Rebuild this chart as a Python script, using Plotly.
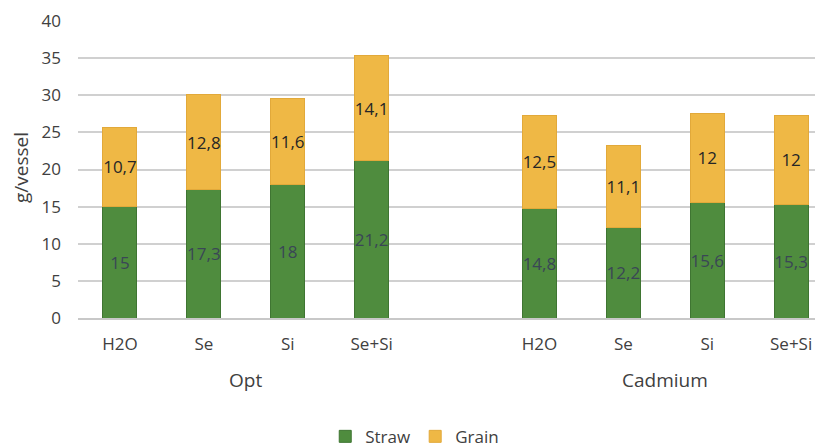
import plotly.graph_objects as go

groups = ["Opt", "Cadmium"]
treatments = ["H2O", "Se", "Si", "Se+Si"]
straw = {"Opt": [15, 17.3, 18, 21.2], "Cadmium": [14.8, 12.2, 15.6, 15.3]}
grain = {"Opt": [10.7, 12.8, 11.6, 14.1], "Cadmium": [12.5, 11.1, 12, 12]}

def fmt(v):
    return (("%g" % v)).replace(".", ",")

xs, s_vals, g_vals, tick_text = [], [], [], []
for gi, g in enumerate(groups):
    for ti, t in enumerate(treatments):
        xs.append(gi * (len(treatments) + 1) + ti)
        tick_text.append(t)
    s_vals += straw[g]
    g_vals += grain[g]

FONT = "'Open Sans', sans-serif"
fig = go.Figure()
fig.add_trace(go.Bar(
    x=xs, y=s_vals, name="Straw", width=0.405,
    marker=dict(color="#4f8c3e", line=dict(color="#3f7532", width=1)),
    text=[fmt(v) for v in s_vals], textposition="inside", insidetextanchor="middle",
    textfont=dict(size=17, color="#3a4656", family=FONT), textangle=0,
))
fig.add_trace(go.Bar(
    x=xs, y=g_vals, name="Grain", width=0.405,
    marker=dict(color="#efb845", line=dict(color="#e2a93a", width=1)),
    text=[fmt(v) for v in g_vals], textposition="inside", insidetextanchor="middle",
    textfont=dict(size=17, color="#262626", family=FONT), textangle=0,
))

for gi, g in enumerate(groups):
    center = gi * (len(treatments) + 1) + (len(treatments) - 1) / 2
    fig.add_annotation(x=center, xref="x", y=-0.209, yref="paper", text=g,
                       showarrow=False, font=dict(size=19, color="#404040", family=FONT),
                       yanchor="middle")

fig.add_annotation(x=-0.0765, xref="paper", y=0.505, yref="paper", text="g/vessel",
                   textangle=-90, showarrow=False,
                   font=dict(size=19, color="#404040", family=FONT),
                   xanchor="center", yanchor="middle")

fig.update_layout(
    width=815, height=440, barmode="stack",
    margin=dict(l=70, r=0, t=13, b=130, autoexpand=False),
    paper_bgcolor="white", plot_bgcolor="white",
    font=dict(family=FONT, color="#404040", size=17),
    uniformtext=dict(mode="show", minsize=17),
    legend=dict(orientation="h", x=0.452, xanchor="center", y=-0.40, yanchor="middle",
                font=dict(size=17, color="#404040"), traceorder="normal",
                itemwidth=30),
    xaxis=dict(tickmode="array", tickvals=xs, ticktext=tick_text, automargin=False,
               range=[-0.5, 8.38], showgrid=False, zeroline=False,
               showline=True, linecolor="#c8c8c8", linewidth=1.5,
               ticks="", ticklabelstandoff=10, tickfont=dict(size=17, color="#404040")),
    yaxis=dict(range=[0, 40], dtick=5, showgrid=True, gridcolor="#d0d0d0", gridwidth=1.5,
               automargin=False,
               zeroline=False, showline=False, ticks="", ticklabelstandoff=16,
               tickfont=dict(size=17, color="#404040")),
    showlegend=True,
)

fig.write_html("out.html")
